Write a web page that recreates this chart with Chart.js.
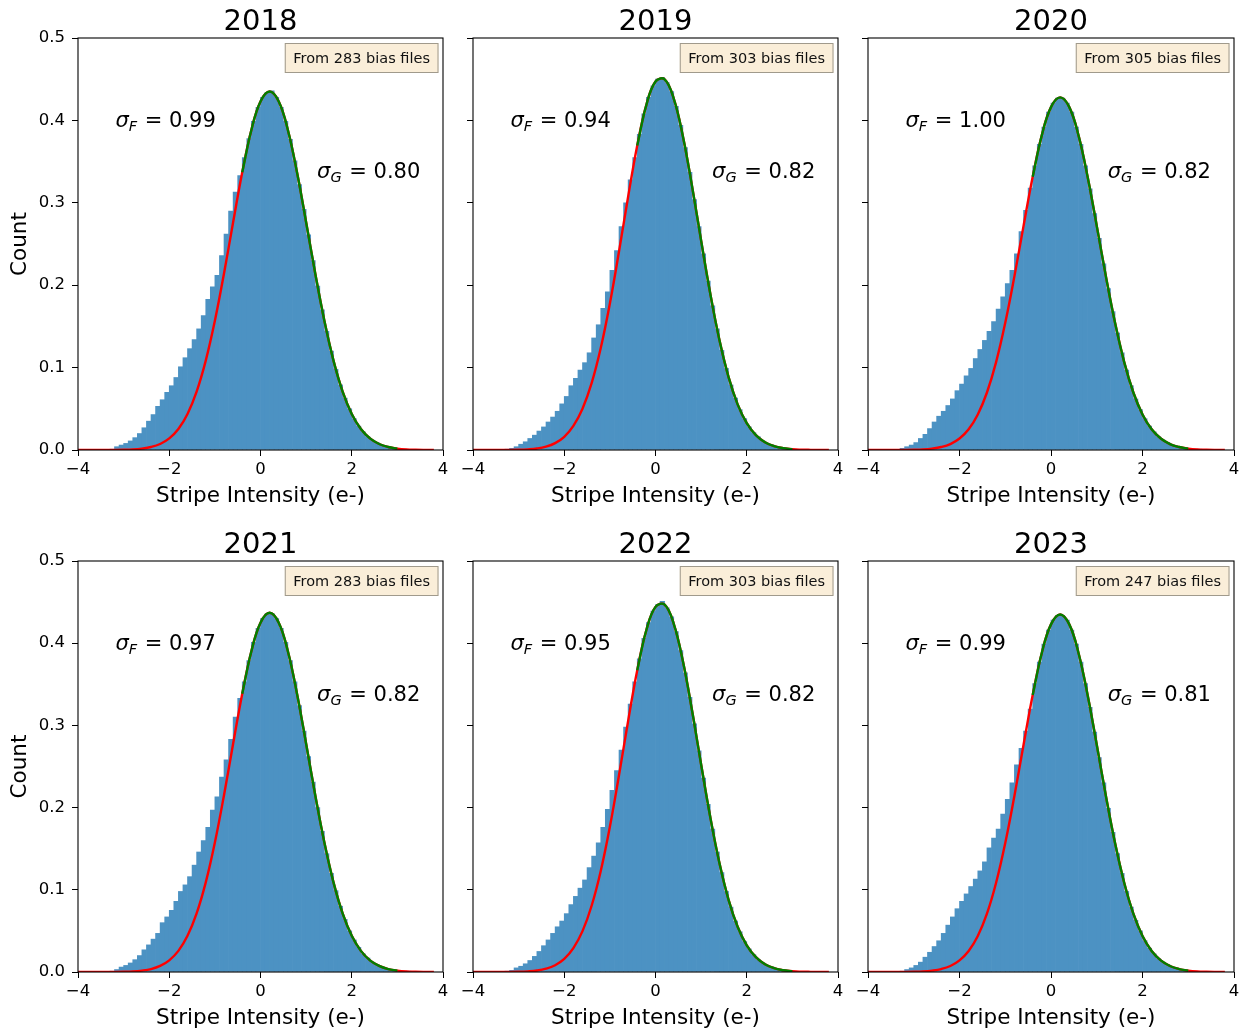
<!DOCTYPE html>
<html>
<head>
<meta charset="utf-8">
<script src="https://cdn.jsdelivr.net/npm/chart.js@4.4.0/dist/chart.umd.min.js"></script>
<style>
  body { margin: 0; background: #fff; width: 1247px; height: 1033px; position: relative; overflow: hidden; }
</style>
</head>
<body>
<script>
// Stripe intensity histograms, one panel per year
const years = ['2018', '2019', '2020', '2021', '2022', '2023'];
const fileCounts = [283, 303, 305, 283, 303, 247];
const sigmaF = ['0.99', '0.94', '1.00', '0.97', '0.95', '0.99'];
const sigmaG = ['0.80', '0.82', '0.82', '0.82', '0.82', '0.81'];
const xTicks = [-4, -2, 0, 2, 4];
const yTicks = [0, 0.1, 0.2, 0.3, 0.4, 0.5];

// histogram bin centres (bin width 0.1)
const binCenters = [-3.35, -3.25, -3.15, -3.05, -2.95, -2.85, -2.75, -2.65, -2.55, -2.45,
  -2.35, -2.25, -2.15, -2.05, -1.95, -1.85, -1.75, -1.65, -1.55, -1.45,
  -1.35, -1.25, -1.15, -1.05, -0.95, -0.85, -0.75, -0.65, -0.55, -0.45,
  -0.35, -0.25, -0.15, -0.05, 0.05, 0.15, 0.25, 0.35, 0.45, 0.55,
  0.65, 0.75, 0.85, 0.95, 1.05, 1.15, 1.25, 1.35, 1.45, 1.55,
  1.65, 1.75, 1.85, 1.95, 2.05, 2.15, 2.25, 2.35, 2.45, 2.55,
  2.65, 2.75, 2.85, 2.95, 3.05, 3.15, 3.25, 3.35];

const hist2018 = [0.000, 0.001, 0.004, 0.006, 0.008, 0.011, 0.015, 0.020, 0.027, 0.035,
  0.043, 0.053, 0.061, 0.070, 0.078, 0.088, 0.101, 0.112, 0.123, 0.134,
  0.147, 0.163, 0.183, 0.198, 0.212, 0.236, 0.262, 0.290, 0.313, 0.333,
  0.355, 0.378, 0.399, 0.416, 0.428, 0.434, 0.436, 0.428, 0.416, 0.399,
  0.377, 0.351, 0.322, 0.292, 0.261, 0.230, 0.199, 0.170, 0.144, 0.120,
  0.098, 0.079, 0.063, 0.050, 0.038, 0.029, 0.022, 0.016, 0.012, 0.009,
  0.006, 0.004, 0.003, 0.002, 0.001, 0.001, 0.000, 0.000];
const hist2019 = [0.000, 0.001, 0.002, 0.004, 0.007, 0.010, 0.014, 0.018, 0.023, 0.028,
  0.034, 0.040, 0.047, 0.056, 0.065, 0.078, 0.087, 0.097, 0.106, 0.118,
  0.136, 0.152, 0.172, 0.192, 0.218, 0.242, 0.271, 0.300, 0.328, 0.355,
  0.383, 0.408, 0.428, 0.442, 0.450, 0.452, 0.446, 0.435, 0.417, 0.394,
  0.367, 0.337, 0.304, 0.271, 0.238, 0.205, 0.175, 0.147, 0.121, 0.099,
  0.079, 0.063, 0.049, 0.038, 0.028, 0.021, 0.016, 0.011, 0.008, 0.006,
  0.004, 0.003, 0.002, 0.001, 0.001, 0.000, 0.000, 0.000];
const hist2020 = [0.000, 0.002, 0.004, 0.006, 0.009, 0.014, 0.019, 0.026, 0.034, 0.041,
  0.047, 0.054, 0.062, 0.072, 0.080, 0.090, 0.099, 0.111, 0.122, 0.133,
  0.144, 0.156, 0.171, 0.186, 0.202, 0.218, 0.238, 0.265, 0.291, 0.318,
  0.345, 0.371, 0.392, 0.410, 0.421, 0.427, 0.427, 0.421, 0.410, 0.392,
  0.371, 0.345, 0.317, 0.287, 0.257, 0.226, 0.196, 0.168, 0.142, 0.118,
  0.097, 0.078, 0.062, 0.049, 0.038, 0.029, 0.022, 0.016, 0.012, 0.009,
  0.006, 0.004, 0.003, 0.002, 0.001, 0.001, 0.001, 0.000];
const hist2021 = [0.000, 0.001, 0.003, 0.006, 0.008, 0.011, 0.015, 0.020, 0.027, 0.033,
  0.040, 0.047, 0.060, 0.067, 0.075, 0.086, 0.098, 0.106, 0.116, 0.130,
  0.146, 0.160, 0.176, 0.197, 0.213, 0.237, 0.258, 0.283, 0.310, 0.333,
  0.353, 0.379, 0.401, 0.418, 0.430, 0.436, 0.436, 0.430, 0.418, 0.401,
  0.379, 0.353, 0.324, 0.293, 0.262, 0.231, 0.200, 0.171, 0.144, 0.120,
  0.099, 0.080, 0.064, 0.050, 0.039, 0.030, 0.022, 0.017, 0.012, 0.009,
  0.006, 0.004, 0.003, 0.002, 0.001, 0.001, 0.001, 0.000];
const hist2022 = [0.000, 0.001, 0.002, 0.005, 0.007, 0.010, 0.014, 0.019, 0.025, 0.032,
  0.039, 0.047, 0.055, 0.062, 0.071, 0.082, 0.092, 0.102, 0.112, 0.127,
  0.141, 0.157, 0.176, 0.198, 0.221, 0.245, 0.270, 0.298, 0.326, 0.353,
  0.381, 0.406, 0.425, 0.439, 0.447, 0.451, 0.443, 0.432, 0.414, 0.391,
  0.364, 0.334, 0.302, 0.269, 0.236, 0.204, 0.174, 0.146, 0.121, 0.098,
  0.079, 0.062, 0.049, 0.037, 0.028, 0.021, 0.015, 0.011, 0.008, 0.006,
  0.004, 0.003, 0.002, 0.001, 0.001, 0.000, 0.000, 0.000];
const hist2023 = [0.000, 0.001, 0.003, 0.005, 0.008, 0.012, 0.018, 0.024, 0.031, 0.038,
  0.047, 0.057, 0.067, 0.077, 0.086, 0.095, 0.104, 0.113, 0.123, 0.134,
  0.151, 0.163, 0.174, 0.192, 0.210, 0.230, 0.252, 0.272, 0.293, 0.320,
  0.351, 0.377, 0.399, 0.416, 0.428, 0.434, 0.434, 0.428, 0.416, 0.399,
  0.377, 0.351, 0.322, 0.292, 0.261, 0.230, 0.199, 0.170, 0.144, 0.120,
  0.098, 0.079, 0.063, 0.050, 0.038, 0.029, 0.022, 0.016, 0.012, 0.009,
  0.006, 0.004, 0.003, 0.002, 0.001, 0.001, 0.000, 0.000];

// fitted gaussian curves, sampled every 0.2
const fitX = [-4.0, -3.8, -3.6, -3.4, -3.2, -3.0, -2.8, -2.6, -2.4, -2.2,
  -2.0, -1.8, -1.6, -1.4, -1.2, -1.0, -0.8, -0.6, -0.4, -0.2,
  0.0, 0.2, 0.4, 0.6, 0.8, 1.0, 1.2, 1.4, 1.6, 1.8,
  2.0, 2.2, 2.4, 2.6, 2.8, 3.0, 3.2, 3.4, 3.6, 3.8];
const fit2018 = [0, 0, 0, 0, 0.0001, 0.0003, 0.0007, 0.0017, 0.0036, 0.0073,
  0.0141, 0.0255, 0.0438, 0.0709, 0.1085, 0.1568, 0.2142, 0.2764, 0.3370, 0.3884,
  0.4229, 0.4350, 0.4229, 0.3884, 0.3370, 0.2764, 0.2142, 0.1568, 0.1085, 0.0709,
  0.0438, 0.0255, 0.0141, 0.0073, 0.0036, 0.0017, 0.0007, 0.0003, 0.0001, 0];
const fit2019 = [0, 0, 0, 0.0001, 0.0001, 0.0003, 0.0008, 0.0018, 0.0040, 0.0083,
  0.0160, 0.0292, 0.0501, 0.0811, 0.1237, 0.1778, 0.2409, 0.3074, 0.3696, 0.4189,
  0.4472, 0.4499, 0.4264, 0.3809, 0.3205, 0.2541, 0.1899, 0.1337, 0.0887, 0.0554,
  0.0326, 0.0181, 0.0095, 0.0047, 0.0022, 0.0009, 0.0004, 0.0002, 0.0001, 0];
const fit2020 = [0, 0, 0, 0, 0.0001, 0.0003, 0.0007, 0.0017, 0.0036, 0.0072,
  0.0139, 0.0251, 0.0431, 0.0698, 0.1067, 0.1543, 0.2107, 0.2720, 0.3316, 0.3821,
  0.4161, 0.4280, 0.4161, 0.3821, 0.3316, 0.2720, 0.2107, 0.1543, 0.1067, 0.0698,
  0.0431, 0.0251, 0.0139, 0.0072, 0.0036, 0.0017, 0.0007, 0.0003, 0.0001, 0];
const fit2021 = [0, 0, 0, 0, 0.0001, 0.0003, 0.0007, 0.0017, 0.0036, 0.0074,
  0.0142, 0.0257, 0.0440, 0.0712, 0.1090, 0.1575, 0.2151, 0.2777, 0.3386, 0.3902,
  0.4248, 0.4370, 0.4248, 0.3902, 0.3386, 0.2777, 0.2151, 0.1575, 0.1090, 0.0712,
  0.0440, 0.0257, 0.0142, 0.0074, 0.0036, 0.0017, 0.0007, 0.0003, 0.0001, 0];
const fit2022 = [0, 0, 0, 0.0001, 0.0001, 0.0003, 0.0008, 0.0018, 0.0040, 0.0082,
  0.0159, 0.0290, 0.0497, 0.0806, 0.1229, 0.1766, 0.2393, 0.3054, 0.3672, 0.4161,
  0.4442, 0.4469, 0.4236, 0.3783, 0.3184, 0.2524, 0.1886, 0.1328, 0.0881, 0.0550,
  0.0324, 0.0180, 0.0094, 0.0046, 0.0022, 0.0009, 0.0004, 0.0002, 0.0001, 0];
const fit2023 = [0, 0, 0, 0, 0.0001, 0.0003, 0.0007, 0.0017, 0.0036, 0.0073,
  0.0141, 0.0255, 0.0438, 0.0709, 0.1085, 0.1568, 0.2142, 0.2764, 0.3370, 0.3884,
  0.4229, 0.4350, 0.4229, 0.3884, 0.3370, 0.2764, 0.2142, 0.1568, 0.1085, 0.0709,
  0.0438, 0.0255, 0.0141, 0.0073, 0.0036, 0.0017, 0.0007, 0.0003, 0.0001, 0];

// green part of the fit (core of the distribution)
const greenFrom = -0.4;
const greenTo = 3.0;

const hists = [hist2018, hist2019, hist2020, hist2021, hist2022, hist2023];
const fits = [fit2018, fit2019, fit2020, fit2021, fit2022, fit2023];

// panel layout (pixels of the plot areas)
const colLeft = [78, 473, 868];
const colWidth = [365, 365, 366];
const rowTop = [38, 561];
const rowHeight = [412, 411];
const FONT = 'DejaVu Sans';

Chart.defaults.font.family = FONT;
Chart.defaults.color = '#000';

function fmtTick(v) {
  return v < 0 ? '\u2212' + Math.abs(v) : String(v);
}

function drawSigma(ctx, px, py, sub, val) {
  ctx.textAlign = 'left';
  ctx.textBaseline = 'alphabetic';
  ctx.font = 'italic 21px "' + FONT + '"';
  ctx.fillText('\u03c3', px, py);
  let w = ctx.measureText('\u03c3').width;
  ctx.font = 'italic 14.5px "' + FONT + '"';
  ctx.fillText(sub, px + w, py + 4);
  w += ctx.measureText(sub).width;
  ctx.font = '21px "' + FONT + '"';
  ctx.fillText(' = ' + val, px + w + 1, py);
}

function decor(i) {
  return {
    id: 'decor' + i,
    afterDatasetsDraw(chart) {
      const { ctx, chartArea: a, scales: { x, y } } = chart;
      ctx.save();
      // frame
      ctx.strokeStyle = '#000';
      ctx.lineWidth = 1.1;
      ctx.strokeRect(a.left, a.top, a.right - a.left, a.bottom - a.top);
      // year title
      ctx.fillStyle = '#000';
      ctx.font = '29px "' + FONT + '"';
      ctx.textAlign = 'center';
      ctx.textBaseline = 'alphabetic';
      ctx.fillText(years[i], (a.left + a.right) / 2, a.top - 8.5);
      // sigma annotations
      drawSigma(ctx, x.getPixelForValue(-3.18), y.getPixelForValue(0.392), 'F', sigmaF[i]);
      drawSigma(ctx, x.getPixelForValue(1.24), y.getPixelForValue(0.330), 'G', sigmaG[i]);
      // file count box
      const label = 'From ' + fileCounts[i] + ' bias files';
      ctx.font = '14.5px "' + FONT + '"';
      const tw = ctx.measureText(label).width;
      const bw = tw + 17, bh = 30;
      const bx = a.right - 4.5 - bw, by = a.top + 5;
      ctx.fillStyle = '#faeed9';
      ctx.fillRect(bx, by, bw, bh);
      ctx.strokeStyle = '#a09a8c';
      ctx.lineWidth = 1;
      ctx.strokeRect(bx + 0.5, by + 0.5, bw - 1, bh - 1);
      ctx.fillStyle = '#111';
      ctx.textAlign = 'left';
      ctx.textBaseline = 'middle';
      ctx.fillText(label, bx + 8.5, by + bh / 2 + 1);
      ctx.restore();
    }
  };
}

years.forEach((yr, i) => {
  const col = i % 3, row = Math.floor(i / 3);
  const w = 70 + colWidth[col] + 12;
  const h = 38 + rowHeight[row] + 62;
  const cv = document.createElement('canvas');
  cv.width = w;
  cv.height = h;
  cv.style.cssText = 'position:absolute;left:' + (colLeft[col] - 70) + 'px;top:' + (rowTop[row] - 38) +
    'px;width:' + w + 'px;height:' + h + 'px';
  document.body.appendChild(cv);

  const histData = binCenters.map((x, k) => ({ x: x, y: hists[i][k] }));
  const redData = fitX.map((x, k) => ({ x: x, y: fits[i][k] }));
  const greenData = redData.filter(p => p.x >= greenFrom - 0.001 && p.x <= greenTo + 0.001);

  new Chart(cv, {
    type: 'bar',
    data: {
      datasets: [
        { type: 'line', data: greenData, borderColor: '#008000', borderWidth: 2.4, pointRadius: 0, tension: 0.4, fill: false, order: 0 },
        { type: 'line', data: redData, borderColor: '#ff0000', borderWidth: 2.4, pointRadius: 0, tension: 0.4, fill: false, order: 1 },
        { type: 'bar', data: histData, backgroundColor: 'rgb(76,146,195)', borderWidth: 0, barPercentage: 1, categoryPercentage: 1, order: 2 }
      ]
    },
    options: {
      responsive: false,
      animation: false,
      devicePixelRatio: 1,
      layout: { padding: { top: 38, right: 12, left: 0, bottom: 0 } },
      plugins: { legend: { display: false }, tooltip: { enabled: false }, title: { display: false } },
      scales: {
        x: {
          type: 'linear', min: -4, max: 4, offset: false,
          afterBuildTicks: s => { s.ticks = xTicks.map(v => ({ value: v })); },
          afterFit: s => { s.height = 62; },
          ticks: { callback: fmtTick, font: { size: 16.5 }, color: '#000', padding: 4, maxRotation: 0, autoSkip: false },
          grid: { display: true, drawOnChartArea: false, drawTicks: true, tickLength: 6, color: '#000', offset: false },
          border: { display: false },
          title: { display: true, text: 'Stripe Intensity (e-)', font: { size: 21.5 }, color: '#000', padding: { top: 0, bottom: 3 } }
        },
        y: {
          type: 'linear', min: 0, max: 0.5,
          afterBuildTicks: s => { s.ticks = yTicks.map(v => ({ value: v })); },
          afterFit: s => { s.width = 70; },
          ticks: { callback: v => col === 0 ? v.toFixed(1) : '', font: { size: 16.5 }, color: '#000', padding: 7 },
          grid: { display: true, drawOnChartArea: false, drawTicks: true, tickLength: 6, color: '#000' },
          border: { display: false },
          title: { display: col === 0, text: 'Count', font: { size: 21.5 }, color: '#000', padding: { top: 0, bottom: 0 } }
        }
      }
    },
    plugins: [decor(i)]
  });
});
</script>
</body>
</html>
